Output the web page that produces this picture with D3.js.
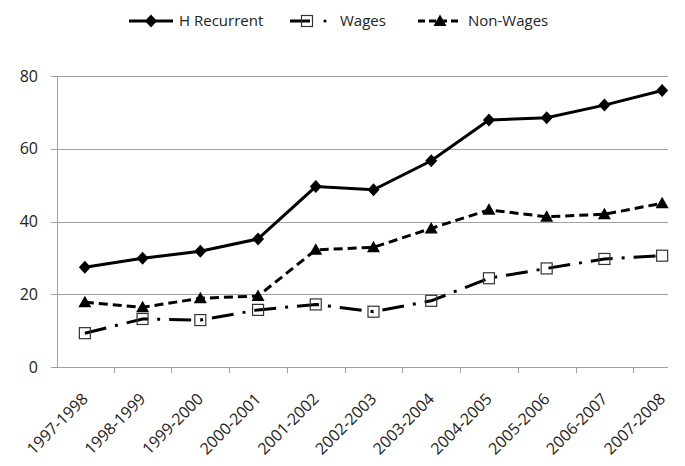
<!DOCTYPE html>
<html>
<head>
<meta charset="utf-8">
<script src="https://cdn.jsdelivr.net/npm/d3@7"></script>
<style>
  body { margin: 0; background: #fff; }
  text { font-family: "Open Sans", sans-serif; fill: #222; }
</style>
</head>
<body>
<div class="canvas"></div>
<script>
// data
const years = ['1997-1998', '1998-1999', '1999-2000', '2000-2001', '2001-2002', '2002-2003',
  '2003-2004', '2004-2005', '2005-2006', '2006-2007', '2007-2008'];
const hRecurrent = [27.4, 29.9, 31.8, 35.2, 49.6, 48.7, 56.7, 67.9, 68.5, 72.0, 76.0];
const wages = [9.3, 13.2, 12.9, 15.7, 17.2, 15.2, 18.2, 24.4, 27.1, 29.7, 30.6];
const nonWages = [17.8, 16.4, 18.9, 19.5, 32.2, 32.9, 38.1, 43.2, 41.3, 42.0, 45.0];
const yTicks = [0, 20, 40, 60, 80];

const W = 685, H = 466;
const m = { t: 76, r: 17, b: 99, l: 57 };

const svg = d3.select('.canvas').append('svg')
  .attr('width', W)
  .attr('height', H);

// category band runs past the right edge (picture is cropped there)
const x = d3.scaleBand().domain(years).range([56, 691]).padding(0);
const y = d3.scaleLinear().domain([0, 80]).range([H - m.b, m.t]);
const cx = d => x(d) + x.bandwidth() / 2;
const plotRight = W - m.r;

//gridlines
svg.append('g')
  .selectAll('line')
  .data(yTicks)
  .enter()
  .append('line')
  .attr('x1', m.l - 6)
  .attr('x2', plotRight)
  .attr('y1', d => Math.round(y(d)) + 0.5)
  .attr('y2', d => Math.round(y(d)) + 0.5)
  .style('stroke', '#a0a0a0')
  .style('stroke-width', 1);

// y axis line
svg.append('line')
  .attr('x1', m.l + 0.5).attr('x2', m.l + 0.5)
  .attr('y1', y(80)).attr('y2', y(0))
  .style('stroke', '#a0a0a0');

svg.append('g')
  .selectAll('text')
  .data(yTicks)
  .enter()
  .append('text')
  .attr('x', m.l - 19)
  .attr('y', d => y(d))
  .attr('dy', '.35em')
  .style('text-anchor', 'end')
  .style('font-size', '16px')
  .text(d => d);

// x ticks at band edges
const xTickPos = years.map(d => x(d)).filter(v => v > m.l + 2 && v < plotRight);
svg.append('g')
  .selectAll('line')
  .data(xTickPos)
  .enter()
  .append('line')
  .attr('x1', d => Math.round(d) + 0.5)
  .attr('x2', d => Math.round(d) + 0.5)
  .attr('y1', y(0))
  .attr('y2', y(0) + 6)
  .style('stroke', '#a0a0a0');

// rotated category labels
svg.append('g')
  .selectAll('text')
  .data(years)
  .enter()
  .append('text')
  .attr('transform', d => `translate(${cx(d) + 4},${y(0) + 33}) rotate(-45)`)
  .style('text-anchor', 'end')
  .style('font-size', '16px')
  .text(d => d);

const series = [
  { name: 'H Recurrent', values: hRecurrent, dash: null, marker: 'diamond' },
  { name: 'Wages', values: wages, dash: '22,9,3,9', marker: 'square' },
  { name: 'Non-Wages', values: nonWages, dash: '9,5', marker: 'triangle' }
];

const line = d3.line()
  .x((d, i) => cx(years[i]))
  .y(d => y(d));

function drawMarker(g, type, px, py) {
  if (type === 'diamond') {
    g.append('path')
      .attr('d', `M${px},${py - 6.5}L${px + 6},${py}L${px},${py + 6.5}L${px - 6},${py}Z`)
      .style('fill', '#000');
  } else if (type === 'triangle') {
    g.append('path')
      .attr('d', `M${px},${py - 6.5}L${px + 6.5},${py + 5}L${px - 6.5},${py + 5}Z`)
      .style('fill', '#000');
  } else {
    g.append('rect')
      .attr('x', px - 5.5).attr('y', py - 5.5)
      .attr('width', 11).attr('height', 11)
      .style('fill', 'none')
      .style('stroke', '#333')
      .style('stroke-width', 1.2);
  }
}

const lines = svg.append('g');
series.forEach(s => {
  lines.append('path')
    .datum(s.values)
    .attr('d', line)
    .style('fill', 'none')
    .style('stroke', '#000')
    .style('stroke-width', 3)
    .style('stroke-dasharray', s.dash);
  const mk = lines.append('g');
  s.values.forEach((v, i) => drawMarker(mk, s.marker, cx(years[i]), y(v)));
});

//legend
const legendX = [129, 290, 418];
const legendY = 21;
const legend = svg.append('g');
series.forEach((s, i) => {
  const lx = legendX[i];
  const g = legend.append('g');
  if (s.marker === 'square') {
    g.append('line')
      .attr('x1', lx).attr('x2', lx + 20)
      .attr('y1', legendY).attr('y2', legendY)
      .style('stroke', '#000').style('stroke-width', 3);
    g.append('circle').attr('cx', lx + 35).attr('cy', legendY).attr('r', 1.6).style('fill', '#000');
    drawMarker(g, 'square', lx + 17, legendY);
    g.append('text').attr('x', lx + 50).attr('y', legendY).attr('dy', '.35em')
      .style('font-size', '15px').text(s.name);
  } else {
    g.append('line')
      .attr('x1', lx).attr('x2', lx + 44)
      .attr('y1', legendY).attr('y2', legendY)
      .style('stroke', '#000').style('stroke-width', 3)
      .style('stroke-dasharray', s.dash ? '7,4' : null);
    drawMarker(g, s.marker, lx + 22, legendY);
    g.append('text').attr('x', lx + 50).attr('y', legendY).attr('dy', '.35em')
      .style('font-size', '15px').text(s.name);
  }
});
</script>
</body>
</html>
